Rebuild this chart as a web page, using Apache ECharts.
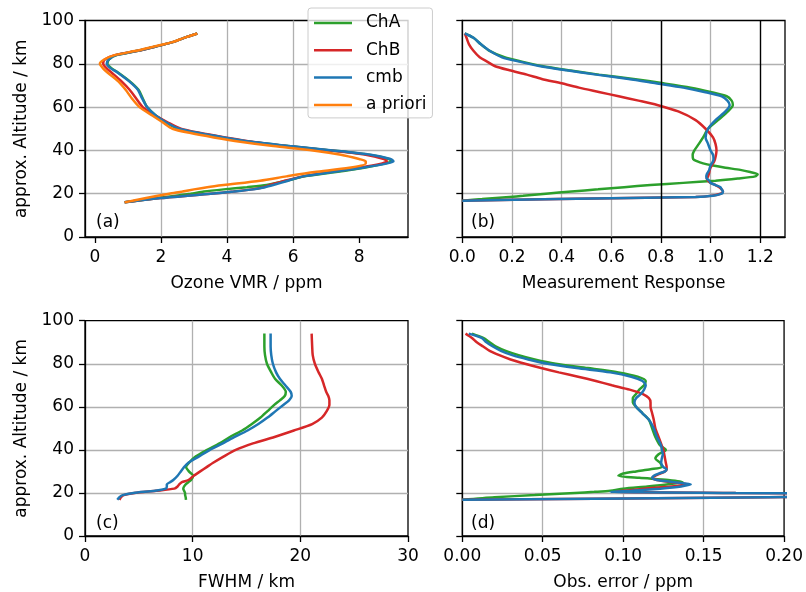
<!DOCTYPE html>
<html>
<head>
<meta charset="utf-8">
<script src="https://cdn.jsdelivr.net/npm/echarts@6/dist/echarts.min.js"></script>
<style>
  html, body { margin: 0; padding: 0; background: #fff; }
  #chart { width: 806px; height: 592px; }
</style>
</head>
<body>
<div id="chart"></div>
<script>
// (a) ozone VMR profiles
const altA = [16, 18, 20, 21, 22, 23, 24, 26, 28, 30, 32, 34, 35, 36, 38, 40, 42, 44, 46, 48, 50, 53, 56, 60, 64, 68, 72, 76, 78, 80, 82, 84, 86, 88, 90, 92, 94];
const vmrChA = [0.9, 1.9, 2.9, 3.3, 3.9, 4.6, 5.2, 5.8, 6.35, 7.3, 8.15, 8.8, 8.98, 8.9, 8.3, 7.15, 5.85, 4.7, 3.85, 3.1, 2.5, 2.15, 1.85, 1.58, 1.45, 1.32, 1.05, 0.7, 0.5, 0.38, 0.43, 0.65, 1.3, 1.85, 2.35, 2.7, 3.1];
const vmrChB = [0.9, 2.0, 3.5, 4.2, 4.75, 5.1, 5.3, 5.75, 6.3, 7.1, 8.0, 8.7, 8.84, 8.75, 8.2, 7.1, 5.8, 4.75, 3.95, 3.2, 2.6, 2.2, 1.85, 1.45, 1.25, 1.05, 0.8, 0.5, 0.35, 0.25, 0.3, 0.6, 1.3, 1.85, 2.35, 2.7, 3.1];
const vmrCmb = [0.9, 2.0, 3.5, 4.2, 4.8, 5.15, 5.4, 5.85, 6.3, 7.2, 8.1, 8.85, 9.04, 8.95, 8.35, 7.2, 5.9, 4.75, 3.9, 3.15, 2.55, 2.15, 1.85, 1.58, 1.43, 1.3, 1.03, 0.68, 0.47, 0.36, 0.42, 0.65, 1.3, 1.85, 2.35, 2.7, 3.1];
const vmrApriori = [0.9, 1.55, 2.25, 2.65, 3.0, 3.4, 3.9, 5.0, 5.8, 6.65, 7.7, 8.2, 8.2, 8.0, 7.45, 6.6, 5.4, 4.4, 3.6, 2.9, 2.35, 2.05, 1.75, 1.35, 1.12, 0.93, 0.7, 0.38, 0.24, 0.15, 0.28, 0.6, 1.25, 1.8, 2.35, 2.7, 3.1];

// (b) measurement response
const altB = [16.8, 17.5, 18, 18.5, 19, 20, 21, 22, 23, 24, 25, 26, 27, 28, 29, 30, 31, 32, 33, 34, 35, 36, 38, 40, 43, 46, 50, 54, 58, 61, 63, 65, 67, 69, 71, 73, 75, 77, 79, 81, 83, 86, 89, 92, 94];
const mrChA = [0.0, 0.08, 0.135, 0.19, 0.245, 0.337, 0.44, 0.547, 0.652, 0.758, 0.89, 1.02, 1.11, 1.18, 1.19, 1.16, 1.12, 1.06, 1.01, 0.97, 0.945, 0.93, 0.928, 0.935, 0.953, 0.97, 0.99, 1.03, 1.07, 1.09, 1.085, 1.065, 1.0, 0.92, 0.81, 0.69, 0.55, 0.43, 0.32, 0.24, 0.17, 0.11, 0.075, 0.045, 0.01];
const mrChB = [0.0, 0.39, 0.67, 0.94, 1.0, 1.04, 1.05, 1.045, 1.035, 1.02, 1.0, 0.99, 0.985, 0.99, 0.993, 0.995, 0.997, 1.0, 1.005, 1.01, 1.015, 1.018, 1.022, 1.024, 1.02, 1.01, 0.98, 0.94, 0.87, 0.785, 0.71, 0.63, 0.55, 0.47, 0.4, 0.32, 0.26, 0.19, 0.13, 0.1, 0.07, 0.045, 0.027, 0.017, 0.01];
const mrCmb = [0.0, 0.39, 0.67, 0.94, 1.01, 1.045, 1.05, 1.045, 1.04, 1.02, 1.0, 0.995, 0.985, 0.983, 0.985, 0.99, 0.995, 0.997, 1.0, 1.005, 1.01, 1.012, 1.01, 1.0, 0.99, 0.98, 0.99, 1.02, 1.06, 1.077, 1.068, 1.045, 0.975, 0.89, 0.78, 0.67, 0.54, 0.42, 0.31, 0.23, 0.16, 0.11, 0.075, 0.045, 0.01];
const responseLimits = [0.8, 1.2];

// (c) FWHM
const altC = [16.8, 18, 19, 20, 21, 22, 23, 24, 25, 26, 28, 30, 32, 34, 37, 40, 43, 46, 49, 52, 55, 58, 61, 63, 65, 67, 70, 73, 76, 80, 84, 88, 94];
const fwhmChA = [9.38, 9.35, 9.3, 9.29, 9.2, 9.13, 9.2, 9.35, 9.6, 9.85, 10.05, 9.65, 9.38, 9.65, 10.3, 11.35, 12.5, 13.45, 14.6, 15.5, 16.3, 16.95, 17.6, 18.1, 18.55, 18.65, 18.25, 17.65, 17.3, 16.9, 16.72, 16.66, 16.66];
const fwhmChB = [3.2, 3.35, 3.6, 4.6, 6.6, 8.3, 8.6, 8.75, 9.0, 9.6, 10.1, 10.7, 11.3, 11.9, 12.9, 14.0, 15.6, 17.6, 19.4, 21.1, 22.0, 22.45, 22.7, 22.7, 22.6, 22.4, 22.2, 22.0, 21.7, 21.35, 21.15, 21.1, 21.05];
const fwhmCmb = [3.0, 3.2, 3.5, 4.5, 6.5, 7.5, 7.6, 7.6, 7.9, 8.2, 8.6, 8.9, 9.2, 9.6, 10.6, 11.6, 12.8, 13.9, 15.1, 16.1, 16.95, 17.7, 18.45, 18.95, 19.2, 19.1, 18.6, 18.1, 17.75, 17.45, 17.3, 17.24, 17.24];

// (d) observation error
const altD = [16.8, 18, 19, 20, 20.5, 21, 22, 23, 24, 25, 26, 27, 28, 29, 30, 31, 32, 34, 36, 38, 40, 42, 46, 50, 54, 57, 60, 62, 64, 66, 68, 70, 72, 74, 76, 78, 80, 82, 84, 86, 88, 90, 92, 94];
const errChA = [0.0, 0.02, 0.045, 0.07, 0.082, 0.092, 0.1, 0.115, 0.128, 0.137, 0.128, 0.11, 0.097, 0.1, 0.108, 0.117, 0.124, 0.123, 0.12, 0.122, 0.1265, 0.123, 0.12, 0.118, 0.116, 0.112, 0.108, 0.106, 0.106, 0.108, 0.11, 0.113, 0.114, 0.109, 0.097, 0.078, 0.058, 0.045, 0.035, 0.027, 0.021, 0.017, 0.013, 0.006];
const errChB = [0.0, 0.19, 0.35, 0.17, 0.095, 0.1, 0.113, 0.13, 0.14, 0.13, 0.121, 0.118, 0.12, 0.123, 0.126, 0.127, 0.127, 0.1265, 0.126, 0.1255, 0.125, 0.124, 0.122, 0.12, 0.119, 0.118, 0.117, 0.117, 0.116, 0.112, 0.104, 0.093, 0.083, 0.072, 0.06, 0.049, 0.039, 0.03, 0.023, 0.017, 0.013, 0.009, 0.006, 0.002];
const errCmb = [0.0, 0.19, 0.35, 0.17, 0.092, 0.105, 0.123, 0.136, 0.142, 0.132, 0.121, 0.118, 0.119, 0.122, 0.126, 0.127, 0.125, 0.1236, 0.124, 0.1246, 0.124, 0.1236, 0.121, 0.119, 0.116, 0.112, 0.108, 0.107, 0.108, 0.111, 0.113, 0.114, 0.112, 0.105, 0.092, 0.071, 0.053, 0.041, 0.031, 0.024, 0.019, 0.015, 0.012, 0.004];

const vmrTicks = [0, 2, 4, 6, 8];
const mrTicks = [0, 0.2, 0.4, 0.6, 0.8, 1.0, 1.2];
const fwhmTicks = [0, 10, 20, 30];
const errTicks = [0, 0.05, 0.1, 0.15, 0.2];

const seriesNames = ["ChA", "ChB", "cmb", "a priori"];
const colors = { "ChA": "#2ca02c", "ChB": "#d62728", "cmb": "#1f77b4", "a priori": "#ff7f0e" };

const FONT = "DejaVu Sans";
const FS = 17;

const grids = [
  { left: 85, top: 20.5, width: 323, height: 216.5 },
  { left: 462.3, top: 20.5, width: 322.7, height: 216.5 },
  { left: 85, top: 320.7, width: 323, height: 216 },
  { left: 462.3, top: 320.7, width: 322.7, height: 216 },
].map((g) => ({ ...g, show: true, borderColor: "#000", borderWidth: 1.3, backgroundColor: "transparent" }));

const splitLine = {
  show: true,
  showMinLine: false,
  showMaxLine: false,
  lineStyle: { color: "#b0b0b0", width: 1.3 },
};

const makeX = (gridIndex, min, max, name, ticks, decimals, extra) => ({
  gridIndex,
  type: "value",
  min,
  max,
  ...extra,
  name,
  nameLocation: "middle",
  nameGap: 38,
  nameTextStyle: { fontSize: FS, color: "#000", fontFamily: FONT },
  axisLine: { show: true, onZero: false, lineStyle: { color: "#000", width: 1.3 } },
  axisTick: { show: true, length: 6, customValues: ticks, lineStyle: { color: "#000", width: 1.3 } },
  axisLabel: {
    fontSize: FS,
    color: "#000",
    fontFamily: FONT,
    margin: 12,
    customValues: ticks,
    formatter: (v) => Number(v).toFixed(decimals),
  },
  splitLine,
});

const makeY = (gridIndex, showLabels) => ({
  gridIndex,
  type: "value",
  min: 0,
  max: 100,
  interval: 20,
  name: showLabels ? "approx. Altitude / km" : "",
  nameLocation: "middle",
  nameGap: 55,
  nameTextStyle: { fontSize: FS, color: "#000", fontFamily: FONT },
  axisLine: { show: true, onZero: false, lineStyle: { color: "#000", width: 1.3 } },
  axisTick: { show: true, length: 6, lineStyle: { color: "#000", width: 1.3 } },
  axisLabel: { show: showLabels, fontSize: FS, color: "#000", fontFamily: FONT, margin: 11 },
  splitLine,
});

const profile = (name, values, alts, idx) => ({
  name,
  type: "line",
  xAxisIndex: idx,
  yAxisIndex: idx,
  data: values.map((v, i) => [v, alts[i]]),
  showSymbol: false,
  smooth: 0.25,
  clip: true,
  lineStyle: { color: colors[name], width: 2.5 },
  itemStyle: { color: colors[name] },
  emphasis: { disabled: true },
});

const series = [
  profile("ChA", vmrChA, altA, 0),
  profile("ChB", vmrChB, altA, 0),
  profile("cmb", vmrCmb, altA, 0),
  profile("a priori", vmrApriori, altA, 0),
  {
    ...profile("ChA", mrChA, altB, 1),
    markLine: {
      silent: true,
      symbol: "none",
      label: { show: false },
      lineStyle: { color: "#000", type: "solid", width: 1.4 },
      data: responseLimits.map((x) => ({ xAxis: x })),
    },
  },
  profile("ChB", mrChB, altB, 1),
  profile("cmb", mrCmb, altB, 1),
  profile("ChA", fwhmChA, altC, 2),
  profile("ChB", fwhmChB, altC, 2),
  profile("cmb", fwhmCmb, altC, 2),
  profile("ChA", errChA, altD, 3),
  profile("ChB", errChB, altD, 3),
  profile("cmb", errCmb, altD, 3),
];

const panelLabels = [
  { text: "(a)", x: 96, y: 223 },
  { text: "(b)", x: 471, y: 223 },
  { text: "(c)", x: 96, y: 524 },
  { text: "(d)", x: 471, y: 524 },
];

const chart = echarts.init(document.getElementById("chart"), null, { renderer: "canvas" });

chart.setOption({
  animation: false,
  backgroundColor: "#fff",
  textStyle: { fontFamily: FONT },
  grid: grids,
  xAxis: [
    makeX(0, -0.3, 9.48, "Ozone VMR / ppm", vmrTicks, 0, { splitNumber: 5 }),
    makeX(1, 0, 1.3, "Measurement Response", mrTicks, 1, { interval: 0.2 }),
    makeX(2, 0, 30, "FWHM / km", fwhmTicks, 0, { interval: 10 }),
    makeX(3, 0, 0.2, "Obs. error / ppm", errTicks, 2, { interval: 0.05 }),
  ],
  yAxis: [makeY(0, true), makeY(1, false), makeY(2, true), makeY(3, false)],
  legend: {
    data: seriesNames,
    orient: "vertical",
    left: 308,
    top: 8,
    padding: [6, 6, 4, 6],
    itemWidth: 38,
    itemHeight: 2.5,
    itemGap: 9.3,
    icon: "rect",
    backgroundColor: "rgba(255,255,255,0.8)",
    borderColor: "#cccccc",
    borderWidth: 1,
    borderRadius: 3,
    selectedMode: false,
    textStyle: { fontSize: FS, lineHeight: 18, color: "#000", fontFamily: FONT, padding: [0, 0, 0, 9] },
  },
  graphic: panelLabels.map((p) => ({
    type: "text",
    x: p.x,
    y: p.y,
    silent: true,
    style: { text: p.text, fontSize: FS, fontFamily: FONT, fill: "#000", verticalAlign: "middle" },
  })),
  series,
});
</script>
</body>
</html>
